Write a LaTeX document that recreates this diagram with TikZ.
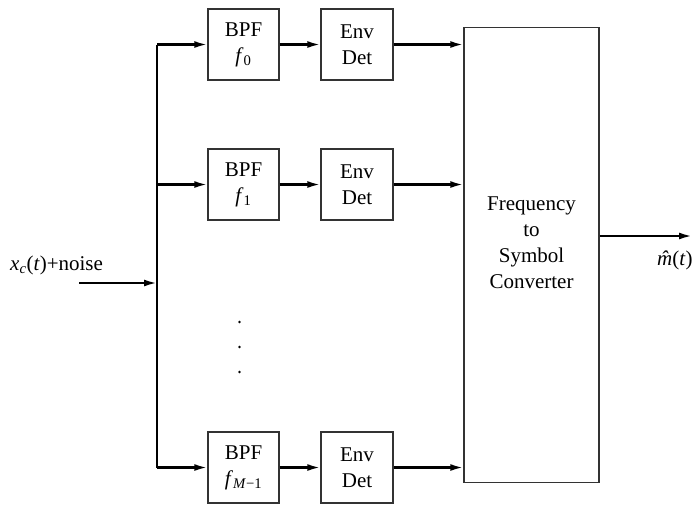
\documentclass[tikz,border=0pt]{standalone}
\usepackage{fontspec}
\setmainfont{Liberation Serif}
\usetikzlibrary{arrows.meta}
\begin{document}
\begin{tikzpicture}[x=1pt,y=-1pt,
  font=\fontsize{21}{26}\selectfont,
  blk/.style={draw=black!80,line width=1.4pt,minimum width=71pt,minimum height=71pt,inner sep=0pt,align=center},
  conn/.style={line width=2.2pt,-{Latex[length=13pt,width=7pt]}},
  wire/.style={line width=2.2pt}]
\useasboundingbox (0,0) rectangle (692,504);
% blocks
\node[blk] (b0) at (243.5,44.5) {BPF\\\textit{f}\textsubscript{0}};
\node[blk] (b1) at (243.5,184.5) {BPF\\\textit{f}\textsubscript{1}};
\node[blk] (b2) at (243.5,467.5) {BPF\\\textit{f}\textsubscript{\textit{M}−1}};
\node[blk,minimum width=72pt] (e0) at (357,44.5) {Env\\Det};
\node[blk,minimum width=72pt] (e1) at (357,184.5) {Env\\Det};
\node[blk,minimum width=72pt] (e2) at (357,467.5) {Env\\Det};
\node[draw=black!80,line width=1.4pt,minimum width=135pt,minimum height=455pt,inner sep=0pt] (conv) at (531.5,255) {};
\node[align=center,inner sep=0pt] (convtxt) at (531.5,243) {Frequency\\to\\Symbol\\Converter};
% labels
\node[anchor=base west,inner sep=0pt] (inlbl) at (10,270) {\textit{x}\textsubscript{\textit{c}}(\textit{t})+noise};
\node[anchor=base west,inner sep=0pt] (outlbl) at (657,265) {\ooalign{\textit{m}\cr\hidewidth\textit{\char"02C6}\hidewidth\cr}(\textit{t})};
% coordinates
\coordinate (in) at (79,283);
\coordinate (bus) at (157,0);
\coordinate (out) at (692,236);
% bus
\draw[wire] (bus |- b0.west) -- (bus |- b2.west);
\draw[conn] (in) -- (in -| bus);
\foreach \i in {0,1,2}{
  \draw[conn] (bus |- b\i.west) -- (b\i.west);
  \draw[conn] (b\i.east) -- (e\i.west);
  \draw[conn] (e\i.east) -- (conv.west |- e\i.east);
}
\draw[conn] (conv.east |- out) -- (out);
% dots
\foreach \y in {322,347,372} \fill (239.5,\y) circle (1.3pt);
\end{tikzpicture}
\end{document}
